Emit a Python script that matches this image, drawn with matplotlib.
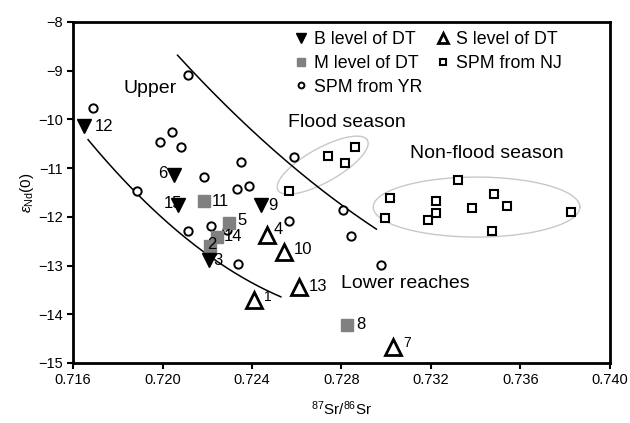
import numpy as np
import matplotlib
matplotlib.use("Agg")
import matplotlib.pyplot as plt

plt.rcParams['font.family'] = ['Liberation Sans', 'DejaVu Sans']
plt.rcParams['mathtext.fontset'] = 'custom'
plt.rcParams['mathtext.rm'] = 'Liberation Sans'
plt.rcParams['mathtext.it'] = 'Liberation Sans:italic'

# ---------------- data ----------------
b_x = [0.71649, 0.72053, 0.72071, 0.72440, 0.72209]
b_y = [-10.14, -11.14, -11.76, -11.76, -12.89]
b_lab = ['12', '6', '15', '9', '3']

m_x = [0.72187, 0.72298, 0.72244, 0.72213, 0.72827]
m_y = [-11.68, -12.13, -12.41, -12.60, -14.22]
m_lab = ['11', '5', '14', '2', '8']

s_x = [0.72467, 0.72542, 0.72609, 0.72409, 0.73031]
s_y = [-12.37, -12.72, -13.44, -13.71, -14.67]
s_lab = ['4', '10', '13', '1', '7']

yr_x = [0.72116, 0.71689, 0.72044, 0.71987, 0.72084, 0.72187, 0.71884,
        0.72351, 0.72333, 0.72387, 0.72116, 0.72218, 0.72289, 0.72338,
        0.72587, 0.72564, 0.72809, 0.72844, 0.72978]
yr_y = [-9.09, -9.77, -10.26, -10.46, -10.57, -11.18, -11.47,
        -10.87, -11.43, -11.37, -12.29, -12.19, -12.27, -12.97,
        -10.77, -12.09, -11.86, -12.39, -12.99]

nj_x = [0.72564, 0.72738, 0.72818, 0.72862, 0.73018, 0.72996, 0.73222,
        0.73222, 0.73187, 0.73320, 0.73480, 0.73382, 0.73542, 0.73471,
        0.73827]
nj_y = [-11.47, -10.75, -10.90, -10.57, -11.61, -12.02, -11.68,
        -11.92, -12.07, -11.24, -11.53, -11.82, -11.78, -12.29,
        -11.90]

# mixing curves (guide points, smoothed by a quadratic fit)
up_cx = [0.72067, 0.7227, 0.7245, 0.7252, 0.7268, 0.7279, 0.72956]
up_cy = [-8.72, -9.60, -10.35, -10.80, -11.35, -11.77, -12.21]
lo_cx = [0.71667, 0.71844, 0.72107, 0.72209, 0.72356, 0.72529]
lo_cy = [-10.38, -11.41, -12.37, -12.83, -13.24, -13.65]

# ellipses: centre, half-axis vectors (data units)
flood_c = (0.72716, -10.94)
flood_u = (0.00200, 0.513)
flood_v = (0.00037, -0.305)
nonflood_c = (0.73404, -11.80)
nonflood_u = (0.00462, 0.0)
nonflood_v = (0.0, 0.616)

xticks = [0.716, 0.720, 0.724, 0.728, 0.732, 0.736, 0.740]
yticks = [-15, -14, -13, -12, -11, -10, -9, -8]

# ---------------- style ----------------
b_off = [(8, 0), (-5, 1), (3, 1), (5, 0), (3, 0)]
b_ha = ['left', 'right', 'right', 'left', 'left']
m_off = [(5, 0), (6, 2), (5, 0), (-2, 1), (6, 0)]
s_off = [(5, 4), (7, 2), (7, 0), (7, 2), (7, 3)]
s_fs = [12, 12, 12, 10, 10]

fig = plt.figure(figsize=(6.30, 4.23), dpi=100)
ax = fig.add_axes([0.116, 0.142, 0.852, 0.806])

t = np.linspace(0, 2 * np.pi, 300)
for c, u, v in [(flood_c, flood_u, flood_v), (nonflood_c, nonflood_u, nonflood_v)]:
    ex = c[0] + u[0] * np.cos(t) + v[0] * np.sin(t)
    ey = c[1] + u[1] * np.cos(t) + v[1] * np.sin(t)
    ax.plot(ex, ey, color='#c8c8c8', lw=1.0, zorder=1)

for cx, cy in [(up_cx, up_cy), (lo_cx, lo_cy)]:
    p = np.polyfit(cx, cy, 2)
    xx = np.linspace(cx[0], cx[-1], 200)
    ax.plot(xx, np.polyval(p, xx), color='black', lw=1.1, zorder=1)

ax.plot(yr_x, yr_y, 'o', ms=6, mfc='white', mec='black', mew=1.4, ls='none', zorder=2,
        label='SPM from YR')
ax.plot(nj_x, nj_y, 's', ms=5.2, mfc='white', mec='black', mew=1.5, ls='none', zorder=2,
        label='SPM from NJ')
ax.plot(m_x, m_y, 's', ms=8, color='#808080', ls='none', zorder=3, label='M level of DT')
ax.plot(s_x, s_y, '^', ms=11, mfc='white', mec='black', mew=2.0, ls='none', zorder=3,
        label='S level of DT')
ax.plot(b_x, b_y, 'v', ms=10, color='black', ls='none', zorder=5, label='B level of DT')

for x, y, lab, off, ha in zip(b_x, b_y, b_lab, b_off, b_ha):
    ax.annotate(lab, (x, y), xytext=off, textcoords='offset points', ha=ha, va='center',
                fontsize=12, zorder=4)
for x, y, lab, off in zip(m_x, m_y, m_lab, m_off):
    ax.annotate(lab, (x, y), xytext=off, textcoords='offset points', ha='left', va='center',
                fontsize=12, zorder=4)
for x, y, lab, off, fs in zip(s_x, s_y, s_lab, s_off, s_fs):
    ax.annotate(lab, (x, y), xytext=off, textcoords='offset points', ha='left', va='center',
                fontsize=fs, zorder=4)

ax.text(0.71827, -9.36, 'Upper', fontsize=14, va='center', ha='left')
ax.text(0.72560, -10.07, 'Flood season', fontsize=14, va='center', ha='left')
ax.text(0.73107, -10.71, 'Non-flood season', fontsize=14, va='center', ha='left')
ax.text(0.72796, -13.36, 'Lower reaches', fontsize=14, va='center', ha='left')

h, l = ax.get_legend_handles_labels()
order = [4, 2, 0, 3, 1]
leg = ax.legend([h[i] for i in order], [l[i] for i in order], ncol=2, loc='upper left',
                bbox_to_anchor=(0.385, 1.02), frameon=False, fontsize=12.8,
                handlelength=0.6, handletextpad=0.4, columnspacing=0.9,
                labelspacing=0.38, markerscale=0.7)

ax.set_xlim(0.716, 0.740)
ax.set_ylim(-15, -8)
ax.set_xticks(xticks)
ax.set_xticklabels(['%.3f' % v for v in xticks])
ax.set_yticks(yticks)
ax.tick_params(direction='out', length=4, width=1.5, labelsize=10.5, pad=3)
for sp in ax.spines.values():
    sp.set_linewidth(2.0)

ax.set_xlabel(r'$^{87}$Sr/$^{86}$Sr', fontsize=11, labelpad=9)
ax.set_ylabel(r'$\varepsilon_{\rm Nd}$(0)', fontsize=11, labelpad=2)

fig.savefig('out.png', dpi=100)
